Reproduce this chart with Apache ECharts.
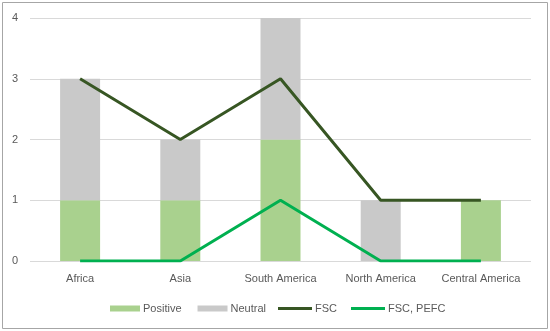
<!DOCTYPE html>
<html><head><meta charset="utf-8">
<script src="https://cdn.jsdelivr.net/npm/echarts@6/dist/echarts.min.js"></script>
<style>html,body{margin:0;padding:0;background:#fff}#c{width:550px;height:331px}</style>
</head><body><div id="c"></div>
<script>
const categories = ['Africa', 'Asia', 'South America', 'North America', 'Central America'];
const positive = [1, 1, 2, 0, 1];
const neutral = [2, 1, 2, 1, 0];
const fsc = [3, 2, 3, 1, 1];
const fscPefc = [0, 0, 1, 0, 0];
const yTicks = [0, 1, 2, 3, 4];

const chart = echarts.init(document.getElementById('c'), null, {renderer: 'canvas'});
const font = 'Liberation Sans, Arial, sans-serif';
const legendText = {fontFamily: font, fontSize: 11, color: '#595959', padding: [0, 0, 0, -2]};
chart.setOption({
  animation: false,
  graphic: [{type: 'rect', shape: {x: 2.5, y: 2.5, width: 545, height: 326}, style: {fill: 'none', stroke: '#A6A6A6', lineWidth: 1}, silent: true}],
  grid: {left: 30, right: 19, top: 18, bottom: 70, containLabel: false},
  legend: [{
    top: 298, left: 105, itemWidth: 30, itemHeight: 6, itemGap: 16, icon: 'rect',
    textStyle: legendText,
    data: ['Positive', 'Neutral']
  }, {
    top: 298, left: 273, itemWidth: 34, itemHeight: 3, itemGap: 14, icon: 'rect',
    textStyle: legendText,
    data: ['FSC', 'FSC, PEFC']
  }],
  xAxis: {
    type: 'category', data: categories,
    axisLine: {show: false}, axisTick: {show: false},
    axisLabel: {fontFamily: font, fontSize: 11, color: '#595959', margin: 12, interval: 0}
  },
  yAxis: {
    type: 'value', min: yTicks[0], max: yTicks[yTicks.length - 1], interval: 1,
    axisLine: {show: false}, axisTick: {show: false},
    axisLabel: {fontFamily: font, fontSize: 11, color: '#595959', margin: 12},
    splitLine: {lineStyle: {color: '#D9D9D9', width: 1}}
  },
  series: [
    {name: 'Positive', type: 'bar', stack: 's', data: positive, barWidth: 40, itemStyle: {color: '#A9D18E'}},
    {name: 'Neutral', type: 'bar', stack: 's', data: neutral, barWidth: 40, itemStyle: {color: '#C9C9C9'}},
    {name: 'FSC', type: 'line', data: fsc, symbol: 'none', lineStyle: {color: '#375623', width: 3}, itemStyle: {color: '#375623'}},
    {name: 'FSC, PEFC', type: 'line', data: fscPefc, symbol: 'none', lineStyle: {color: '#00B050', width: 3}, itemStyle: {color: '#00B050'}}
  ]
});
</script></body></html>
